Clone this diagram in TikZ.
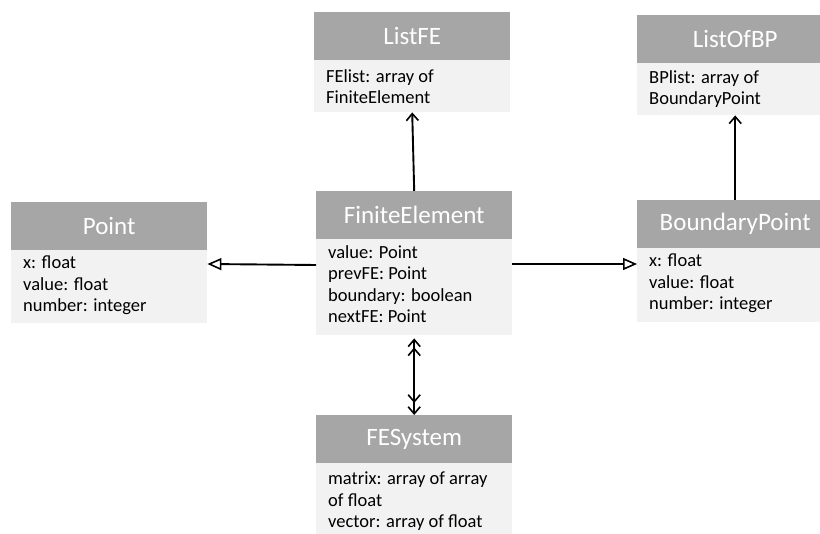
\documentclass[tikz,border=0pt]{standalone}
\usepackage{fontspec}
\setmainfont{Carlito}
\usetikzlibrary{arrows.meta}
\definecolor{hdrgray}{HTML}{A6A6A6}
\definecolor{bodygray}{HTML}{F2F2F2}
\begin{document}
\begin{tikzpicture}[x=1pt,y=-1pt,
  hdr/.style={rectangle, fill=hdrgray, text=white, font=\fontsize{25}{28}\selectfont, inner sep=0pt, anchor=north west, minimum width=196pt, minimum height=48pt},
  bdy/.style={rectangle, fill=bodygray, inner sep=0pt, anchor=north west, minimum width=196pt},
  txt/.style={anchor=north west, inner sep=0pt, align=left, font=\fontsize{18.5}{21.5}\selectfont},
  conn/.style={line width=1.9pt},
  gen/.style={conn, -{Triangle[open, length=14pt, width=12pt, fill=white, line width=1.6pt]}},
  assoc/.style={conn, -{Straight Barb[length=7pt, width=12pt, line width=1.6pt]}},
  dbl/.style={conn, {Straight Barb[length=7pt, width=12pt, line width=1.6pt, sep=3pt]Straight Barb[length=7pt, width=12pt, line width=1.6pt]}-{Straight Barb[length=7pt, width=12pt, line width=1.6pt, sep=3pt]Straight Barb[length=7pt, width=12pt, line width=1.6pt]}}
]
\useasboundingbox (0,0) rectangle (820,534);
\fill[white] (0,0) rectangle (820,534);

% ListFE
\node[hdr] (listfeH) at (314,12) {ListFE};
\node[bdy, minimum height=52pt] (listfeB) at (314,60) {};
\node[txt] (listfeT) at (326,69) {FElist: array of\\FiniteElement};

% ListOfBP
\node[hdr] (listbpH) at (637,15) {ListOfBP};
\node[bdy, minimum height=52pt] (listbpB) at (637,63) {};
\node[txt] (listbpT) at (649,70) {BPlist: array of\\BoundaryPoint};

% Point
\node[hdr] (pointH) at (11,202) {Point};
\node[bdy, minimum height=73pt] (pointB) at (11,250) {};
\node[txt] (pointT) at (23,256) {x: float\\value: float\\number: integer};

% FiniteElement
\node[hdr] (feH) at (316,191) {FiniteElement};
\node[bdy, minimum height=96pt] (feB) at (316,239) {};
\node[txt] (feT) at (328,245) {value: Point\\prevFE: Point\\boundary: boolean\\nextFE: Point};

% BoundaryPoint
\node[hdr] (bpH) at (637,200) {BoundaryPoint};
\node[bdy, minimum height=74pt] (bpB) at (637,248) {};
\node[txt] (bpT) at (649,254) {x: float\\value: float\\number: integer};

% FESystem
\node[hdr] (fesH) at (316,415) {FESystem};
\node[bdy, minimum height=80pt] (fesB) at (316,463) {};
\node[txt] (fesT) at (328,472) {matrix: array of array\\of float\\vector: array of float};

% connectors
\draw[assoc] (feH.north) -- (listfeB.south);
\draw[assoc] (bpH.north) -- (listbpB.south);
\draw[gen] (feB.west |- 0,265) -- (pointB.east |- 0,264);
\draw[gen] (feB.east |- 0,264) -- (bpB.west |- 0,264);
\draw[dbl] (feB.south) -- (fesH.north);
\end{tikzpicture}
\end{document}
